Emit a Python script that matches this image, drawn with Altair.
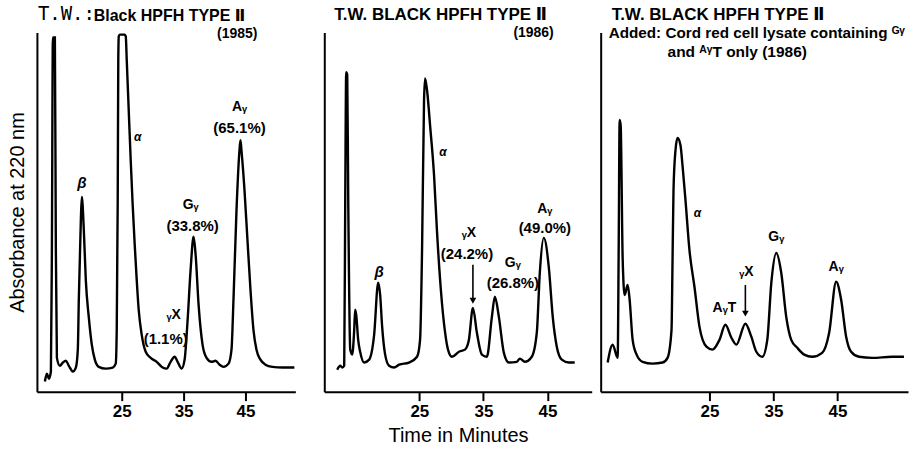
import altair as alt
import pandas as pd

# ---------------- data ----------------
# Panel 1: T.W. Black HPFH type II (1985)
p1_time = [12.58, 12.90, 13.23, 13.55, 13.71, 13.87, 14.19, 14.35, 14.52, 15.00, 15.48, 15.97,
           16.45, 17.10, 17.58, 17.90, 18.06, 18.39, 18.55, 18.87, 19.19, 19.68, 20.16, 20.65,
           21.29, 22.42, 23.55, 24.03, 24.19, 24.35, 24.44, 24.52, 24.68, 25.48, 25.65, 25.81,
           26.13, 26.45, 26.77, 27.10, 27.42, 27.74, 28.23, 28.87, 29.68, 30.65, 31.61, 32.26,
           32.90, 33.55, 34.03, 34.68, 35.16, 35.65, 36.13, 36.61, 36.94, 37.42, 38.06, 38.71,
           39.52, 40.16, 40.81, 41.45, 42.26, 42.74, 43.06, 43.55, 44.03, 44.19, 44.35, 44.84,
           45.32, 45.81, 46.29, 46.77, 47.42, 48.23, 49.35, 50.97, 52.90]
p1_abs = [2.8, 5.0, 3.6, 5.6, 39.4, 98.6, 98.6, 39.4, 9.4, 7.2, 8.1, 8.6,
          7.2, 5.6, 6.7, 11.7, 25.6, 47.8, 54.2, 45.0, 31.1, 20.6, 13.1, 8.9,
          6.9, 6.4, 6.7, 7.8, 17.2, 53.3, 92.2, 98.9, 99.4, 99.4, 98.9, 92.2,
          78.3, 64.4, 51.9, 40.8, 31.1, 22.8, 15.8, 11.1, 9.4, 8.3, 6.7, 6.4,
          8.3, 9.7, 8.3, 6.4, 8.9, 20.0, 33.9, 43.1, 38.1, 24.2, 13.1, 9.4,
          8.3, 8.6, 7.5, 6.9, 7.8, 11.7, 25.6, 50.6, 67.2, 70.0, 67.2, 56.1,
          42.2, 28.3, 17.2, 11.7, 8.9, 7.5, 6.9, 6.7, 6.7]

# Panel 2: T.W. BLACK HPFH TYPE II (1986)
p2_time = [12.18, 12.65, 12.96, 13.27, 13.43, 13.58, 13.74, 13.90, 14.21, 14.52, 14.83, 14.98,
           15.14, 15.45, 15.76, 16.38, 17.16, 17.94, 18.57, 18.88, 19.19, 19.66, 20.28, 21.06,
           21.84, 23.39, 24.64, 25.11, 25.42, 25.73, 25.89, 26.20, 26.67, 27.29, 27.76, 28.38,
           29.00, 29.47, 30.09, 31.18, 32.11, 32.73, 33.36, 33.98, 34.76, 35.54, 36.32, 36.79,
           37.41, 38.19, 38.97, 40.22, 40.69, 41.46, 42.55, 43.33, 43.80, 44.42, 45.20, 45.82,
           46.45, 47.23, 48.32, 49.25]
p2_abs = [6.1, 7.2, 6.7, 7.2, 53.3, 88.9, 88.3, 53.3, 11.7, 10.3, 17.2, 22.8,
          21.4, 14.4, 11.1, 8.1, 8.9, 15.8, 30.3, 26.9, 18.1, 10.3, 7.2, 6.7,
          7.5, 8.1, 9.7, 14.4, 39.4, 81.1, 87.2, 83.9, 74.2, 60.3, 44.4, 27.8,
          16.7, 11.7, 9.7, 11.1, 11.7, 14.4, 23.3, 16.4, 10.3, 9.7, 20.8, 26.4,
          20.8, 10.8, 8.1, 8.3, 9.2, 8.3, 9.7, 16.4, 33.1, 42.8, 34.7, 20.8,
          12.5, 8.9, 8.1, 8.1]

# Panel 3: with added cord red cell lysate (1986)
p3_time = [9.11, 9.89, 10.67, 10.83, 10.98, 11.14, 11.45, 11.76, 12.23, 12.54, 13.01, 13.63,
           14.56, 16.12, 17.68, 18.46, 19.08, 19.24, 19.39, 19.70, 20.02, 20.48, 20.79, 21.26,
           21.88, 22.66, 23.44, 24.53, 25.47, 26.56, 27.49, 28.43, 29.21, 30.61, 31.54, 32.32,
           33.26, 34.03, 34.66, 35.44, 36.21, 36.99, 37.77, 38.71, 39.80, 41.04, 42.60, 43.69,
           44.78, 45.56, 46.34, 47.12, 48.36, 50.39, 53.50, 55.37]
p3_abs = [8.1, 13.1, 9.4, 39.4, 75.6, 74.2, 37.2, 26.9, 29.7, 25.6, 14.4, 10.3,
          8.3, 7.8, 8.1, 9.4, 17.2, 36.7, 56.1, 67.2, 70.6, 68.6, 63.1, 53.3,
          39.4, 29.2, 18.1, 12.5, 11.7, 14.4, 18.6, 15.0, 13.1, 18.9, 15.3, 11.1,
          9.7, 14.4, 30.3, 38.6, 33.1, 20.8, 14.4, 12.2, 10.3, 9.7, 10.8, 16.4,
          30.6, 25.6, 15.3, 11.1, 9.7, 9.4, 9.7, 9.7]

# x-axis ranges (minutes) and ticks
p1_range = [11.29, 53.06]
p2_range = [10.16, 51.90]
p3_range = [8.02, 56.0]
tick_minutes = [25, 35, 45]

# peak labels
p1_names, p1_names_t, p1_names_v = ["Aᵧ", "Gᵧ", "ᵧX"], [44.03, 36.13, 33.39], [79.2, 51.9, 21.4]
p1_pct, p1_pct_t, p1_pct_v = ["(65.1%)", "(33.8%)", "(1.1%)"], [44.03, 36.45, 32.10], [73.3, 46.1, 14.7]
p1_beta_t, p1_beta_v = [18.55], [58.1]
p1_alpha_t, p1_alpha_v = [27.58], [70.8]

p2_names, p2_names_t, p2_names_v = ["Aᵧ", "Gᵧ", "ᵧX"], [44.58, 39.59, 32.74], [50.8, 35.8, 44.2]
p2_pct, p2_pct_t, p2_pct_v = ["(49.0%)", "(26.8%)", "(24.2%)"], [44.58, 39.59, 32.43], [45.6, 30.3, 38.3]
p2_beta_t, p2_beta_v = [18.72], [33.3]
p2_alpha_t, p2_alpha_v = [28.69], [66.7]
p2_arrow_t, p2_arrow_from, p2_arrow_to = [33.36], [35.3], [25.3]

p3_names, p3_names_t, p3_names_v = ["Gᵧ", "Aᵧ", "AᵧT", "ᵧX"], [35.44, 44.78, 27.34, 30.76], [43.1, 34.7, 23.3, 33.3]
p3_alpha_t, p3_alpha_v = [23.13], [49.7]
p3_arrow_t, p3_arrow_from, p3_arrow_to = [30.61], [29.7], [21.7]

# panel headings
p1_head_a = "T.W.:"
p1_head_b = "Black HPFH TYPE Ⅱ"
p1_head_c = "(1985)"
p2_head_a = "T.W. BLACK HPFH TYPE Ⅱ"
p2_head_c = "(1986)"
p3_head_a = "T.W. BLACK HPFH TYPE Ⅱ"
p3_head_b = "Added: Cord red cell lysate containing ᴳᵞ"
p3_head_c = "and ᴬᵞT only  (1986)"

FONT = "Liberation Sans, DejaVu Sans"
H = 360


def text_layer(texts, ts, vs, size, weight="bold", style="normal", xs=None):
    df = pd.DataFrame({"s": texts, "t": ts, "v": vs})
    return alt.Chart(df).mark_text(font=FONT, fontSize=size, fontWeight=weight,
                                   fontStyle=style, color="black", baseline="middle",
                                   align="center").encode(
        x=alt.X("t:Q", scale=xs), y=alt.Y("v:Q"), text="s:N")


def head(text, x, y, size, align="left", font=FONT, weight="bold"):
    return alt.Chart(pd.DataFrame({"s": [text]})).mark_text(
        font=font, fontSize=size, fontWeight=weight, color="black",
        align=align, baseline="alphabetic").encode(
        x=alt.value(x), y=alt.value(y), text="s:N")


def panel(times, absv, rng, width, ytitle, xtitle, extra):
    xs = alt.Scale(domain=rng, nice=False, zero=False)
    xaxis = alt.Axis(values=tick_minutes, grid=False, title=xtitle if xtitle else "",
                     titleFontSize=20, titleFontWeight="normal", titleFont=FONT,
                     titlePadding=6, titleColor="black")
    yaxis = alt.Axis(labels=False, ticks=False, grid=False, title=ytitle if ytitle else "",
                     titleFontSize=20, titleFontWeight="normal", titleFont=FONT,
                     titlePadding=9, titleColor="black")
    df = pd.DataFrame({"t": times, "v": absv})
    line = alt.Chart(df).mark_line(color="black", strokeWidth=2.4,
                                   interpolate="monotone").encode(
        x=alt.X("t:Q", scale=xs, axis=xaxis),
        y=alt.Y("v:Q", scale=alt.Scale(domain=[0, 100], nice=False), axis=yaxis))
    layers = [line] + [e(xs) for e in extra]
    return alt.layer(*layers).properties(width=width, height=H)


def arrow(ts, v1, v2):
    def f(xs):
        df = pd.DataFrame({"t": ts, "v1": v1, "v2": v2})
        shaft = alt.Chart(df).mark_rule(color="black", strokeWidth=1.6).encode(
            x=alt.X("t:Q", scale=xs), y="v1:Q", y2="v2:Q")
        tip = alt.Chart(df).mark_point(shape="triangle-down", filled=True, color="black",
                                       size=45, opacity=1).encode(
            x=alt.X("t:Q", scale=xs), y="v2:Q")
        return alt.layer(shaft, tip)
    return f


def lab(texts, ts, vs, size, weight="bold", style="normal"):
    return lambda xs: text_layer(texts, ts, vs, size, weight, style, xs)


def hd(*args, **kw):
    return lambda xs: head(*args, **kw)


c1 = panel(p1_time, p1_abs, p1_range, 259, "Absorbance at 220 nm", None, [
    lab(p1_names, p1_names_t, p1_names_v, 14),
    lab(p1_pct, p1_pct_t, p1_pct_v, 15),
    lab(["β"], p1_beta_t, p1_beta_v, 15, "bold", "italic"),
    lab(["α"], p1_alpha_t, p1_alpha_v, 12, "bold", "italic"),
    hd(p1_head_a, 1, -12, 19, font="DejaVu Sans Mono", weight="normal"),
    hd(p1_head_b, 57, -11, 16),
    hd(p1_head_c, 221, 6, 14, align="right"),
])

c2 = panel(p2_time, p2_abs, p2_range, 268, None, "Time in Minutes", [
    lab(p2_names, p2_names_t, p2_names_v, 14),
    lab(p2_pct, p2_pct_t, p2_pct_v, 15),
    lab(["β"], p2_beta_t, p2_beta_v, 15, "bold", "italic"),
    lab(["α"], p2_alpha_t, p2_alpha_v, 12, "bold", "italic"),
    arrow(p2_arrow_t, p2_arrow_from, p2_arrow_to),
    hd(p2_head_a, 10, -12, 17),
    hd(p2_head_c, 230, 5, 14, align="right"),
])

c3 = panel(p3_time, p3_abs, p3_range, 308, None, None, [
    lab(p3_names, p3_names_t, p3_names_v, 14),
    lab(["α"], p3_alpha_t, p3_alpha_v, 12, "bold", "italic"),
    arrow(p3_arrow_t, p3_arrow_from, p3_arrow_to),
    hd(p3_head_a, 11, -12, 17),
    hd(p3_head_b, 8, 6, 15.3),
    hd(p3_head_c, 67, 25, 15.5),
])

chart = alt.hconcat(
    alt.hconcat(c1, c2, spacing=25),
    c3, spacing=9
).properties(
    padding={"left": 8, "top": 5, "right": 0, "bottom": 0}
).configure_view(strokeWidth=0).configure_axis(
    domainColor="black", domainWidth=2, tickColor="black", tickWidth=2, tickSize=9,
    labelFont=FONT, labelFontWeight="bold", labelFontSize=17, labelColor="black",
    labelPadding=3
)

chart.save("out.html", embed_options={"renderer": "svg", "actions": False})
